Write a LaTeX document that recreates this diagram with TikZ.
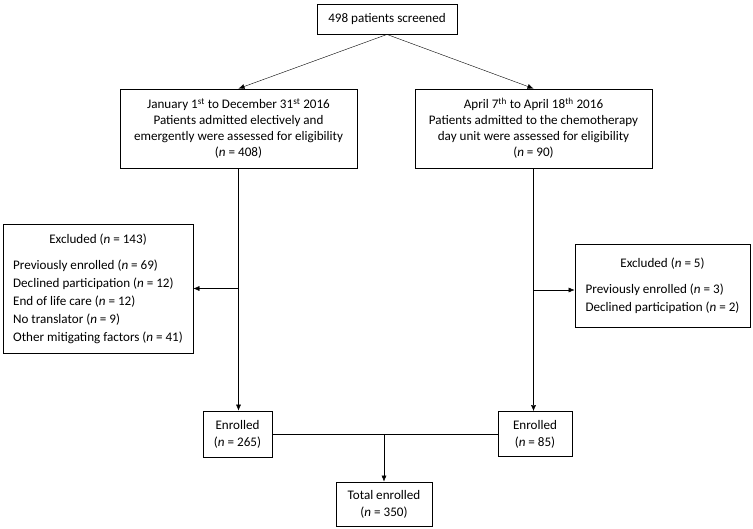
\documentclass[tikz,border=0pt]{standalone}
\usepackage{fontspec}
\setmainfont{Carlito}
\usetikzlibrary{arrows.meta}
\newcommand{\nn}{\textit{n}}

\begin{document}
\begin{tikzpicture}[x=1pt,y=-1pt,
  box/.style={draw, line width=0.9pt, align=center, inner sep=0pt},
  arr/.style={-{Latex[length=6pt,width=5pt]}},
  font=\fontsize{13.1}{16}\selectfont]
\useasboundingbox (0,0) rectangle (753,528);
% screening and the two sites:
\node[box, minimum width=140, minimum height=30] (scr) at (387,19) {498 patients screened};
\node[box, minimum width=237, minimum height=79] (jan) at (238.5,128.5)
  {January 1\textsuperscript{st} to December 31\textsuperscript{st} 2016\\
   Patients admitted electively and\\
   emergently were assessed for eligibility\\
   (\nn{} = 408)};
\node[box, minimum width=237, minimum height=79] (apr) at (533.5,128.5)
  {April 7\textsuperscript{th} to April 18\textsuperscript{th} 2016\\
   Patients admitted to the chemotherapy\\
   day unit were assessed for eligibility\\
   (\nn{} = 90)};
% exclusions:
\node[box, minimum width=190, minimum height=129, font=\fontsize{13.1}{18}\selectfont] (exc1) at (98,288.5)
  {\begin{tabular}{@{}l@{}}
   \multicolumn{1}{@{}c@{}}{Excluded (\nn{} = 143)}\\[8pt]
   Previously enrolled (\nn{} = 69)\\
   Declined participation (\nn{} = 12)\\
   End of life care (\nn{} = 12)\\
   No translator (\nn{} = 9)\\
   Other mitigating factors (\nn{} = 41)
   \end{tabular}};
\node[box, minimum width=175, minimum height=83, font=\fontsize{13.1}{18}\selectfont] (exc2) at (662.5,285.5)
  {\begin{tabular}{@{}l@{}}
   \multicolumn{1}{@{}c@{}}{Excluded (\nn{} = 5)}\\[8pt]
   Previously enrolled (\nn{} = 3)\\
   Declined participation (\nn{} = 2)
   \end{tabular}};
% enrolment:
\node[box, minimum width=69, minimum height=46, font=\fontsize{13.1}{17}\selectfont] (enr1) at (237.5,434) {Enrolled\\(\nn{} = 265)};
\node[box, minimum width=74, minimum height=45, font=\fontsize{13.1}{17}\selectfont] (enr2) at (535,434) {Enrolled\\(\nn{} = 85)};
\node[box, minimum width=96, minimum height=44, font=\fontsize{13.1}{17}\selectfont] (tot) at (384,504) {Total enrolled\\(\nn{} = 350)};
\coordinate (e2in) at ([yshift=-4.5pt]exc2.west);
% connectors:
\draw[arr] (scr.south) -- (jan.north);
\draw[arr] (scr.south) -- (apr.north);
\draw[arr] (jan.south) -- (jan.south |- enr1.north);
\draw[arr] (apr.south) -- (apr.south |- enr2.north);
\draw[arr] (jan.south |- exc1.east) -- (exc1.east);
\draw[arr] (apr.south |- e2in) -- (e2in);
\draw (enr1.east) -- (enr2.west);
\draw[arr] (tot.north |- enr1.east) -- (tot.north);
\end{tikzpicture}
\end{document}
